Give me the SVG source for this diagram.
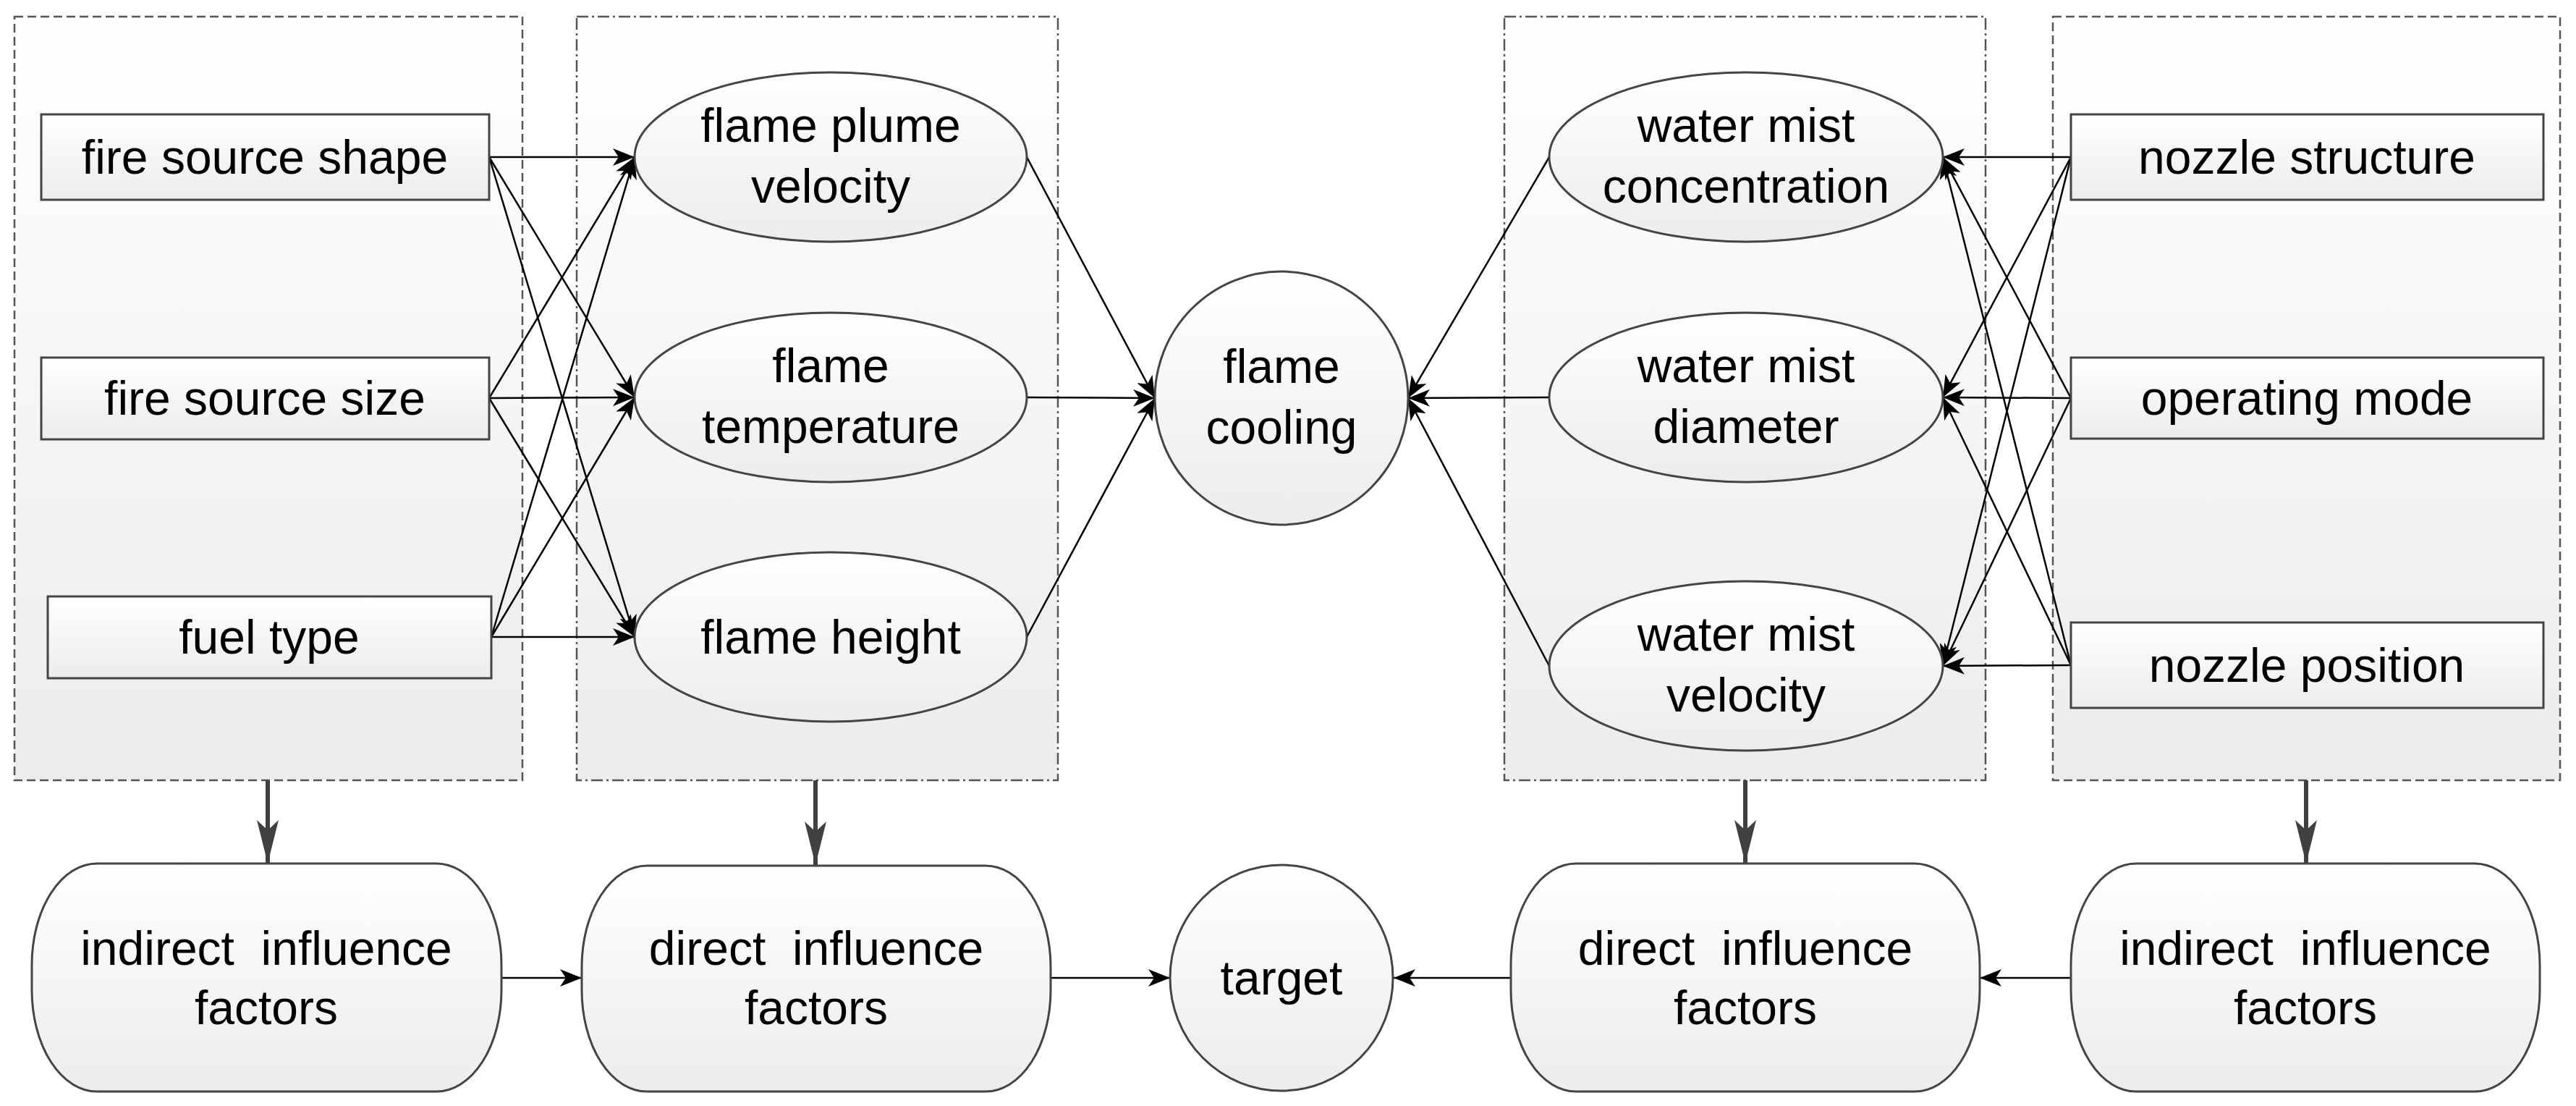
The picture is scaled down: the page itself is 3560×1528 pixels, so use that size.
<svg xmlns="http://www.w3.org/2000/svg" width="3560" height="1528" viewBox="0 0 3560 1528">
<style>
text{font-family:"Liberation Sans",Arial,sans-serif;font-size:66px;fill:#000;text-anchor:middle;white-space:pre}
.grp{fill:url(#g);stroke:#555;stroke-width:2.5}
.dash{stroke-dasharray:12 6}
.dd{stroke-dasharray:16 5 3 5}
.node{fill:url(#g);stroke:#444;stroke-width:3}
.c{stroke:#000;stroke-width:2.5;fill:none;marker-end:url(#a)}
.d{stroke:#404040;stroke-width:6;fill:none;marker-end:url(#b)}
</style>
<defs>
<linearGradient id="g" x1="0" y1="0" x2="0" y2="1"><stop offset="0" stop-color="#ffffff"/><stop offset="1" stop-color="#ececec"/></linearGradient>
<marker id="a" viewBox="0 0 30 24" refX="30" refY="12" markerWidth="30" markerHeight="24" markerUnits="userSpaceOnUse" orient="auto"><path d="M0,0 L30,12 L0,24 L8,12 Z" fill="#000"/></marker>
<marker id="b" viewBox="0 0 30 60" refX="15" refY="60" markerWidth="30" markerHeight="60" markerUnits="userSpaceOnUse" orient="0"><path d="M0,0 L15,60 L30,0 L15,14 Z" fill="#404040"/></marker>
</defs>
<g id="groups">
<rect class="grp dash" x="20" y="23" width="702" height="1055"/>
<rect class="grp dd" x="797" y="23" width="665" height="1055"/>
<rect class="grp dd" x="2079" y="23" width="665" height="1055"/>
<rect class="grp dash" x="2837" y="23" width="701" height="1055"/>
</g>
<g id="connectors">
<line class="c" x1="676" y1="217" x2="877" y2="217"/>
<line class="c" x1="676" y1="217" x2="877" y2="549"/>
<line class="c" x1="676" y1="217" x2="877" y2="880"/>
<line class="c" x1="676" y1="550" x2="877" y2="217"/>
<line class="c" x1="676" y1="550" x2="877" y2="549"/>
<line class="c" x1="676" y1="550" x2="877" y2="880"/>
<line class="c" x1="679" y1="880" x2="877" y2="217"/>
<line class="c" x1="679" y1="880" x2="877" y2="549"/>
<line class="c" x1="679" y1="880" x2="877" y2="880"/>
<line class="c" x1="1419" y1="217" x2="1596" y2="550"/>
<line class="c" x1="1419" y1="549" x2="1596" y2="550"/>
<line class="c" x1="1419" y1="880" x2="1596" y2="550"/>
<line class="c" x1="2141" y1="217" x2="1946" y2="550"/>
<line class="c" x1="2141" y1="549" x2="1946" y2="550"/>
<line class="c" x1="2141" y1="920" x2="1946" y2="550"/>
<line class="c" x1="2862" y1="217" x2="2685" y2="217"/>
<line class="c" x1="2862" y1="217" x2="2685" y2="549"/>
<line class="c" x1="2862" y1="217" x2="2685" y2="920"/>
<line class="c" x1="2862" y1="550" x2="2685" y2="217"/>
<line class="c" x1="2862" y1="550" x2="2685" y2="549"/>
<line class="c" x1="2862" y1="550" x2="2685" y2="920"/>
<line class="c" x1="2862" y1="919" x2="2685" y2="217"/>
<line class="c" x1="2862" y1="919" x2="2685" y2="549"/>
<line class="c" x1="2862" y1="919" x2="2685" y2="920"/>
<line class="d" x1="370" y1="1078" x2="370" y2="1193"/>
<line class="d" x1="1127" y1="1078" x2="1127" y2="1195"/>
<line class="d" x1="2412" y1="1078" x2="2412" y2="1193"/>
<line class="d" x1="3187" y1="1078" x2="3187" y2="1193"/>
<line class="c" x1="693" y1="1351" x2="804" y2="1351"/>
<line class="c" x1="1452" y1="1351" x2="1617" y2="1351"/>
<line class="c" x1="2088" y1="1351" x2="1926" y2="1351"/>
<line class="c" x1="2862" y1="1351" x2="2736" y2="1351"/>
</g>
<g id="n-shape"><rect class="node" x="57" y="158" width="619" height="118"/><text x="366" y="240">fire source shape</text></g>
<g id="n-size"><rect class="node" x="57" y="494" width="619" height="113"/><text x="366" y="573">fire source size</text></g>
<g id="n-fuel"><rect class="node" x="66" y="824" width="613" height="113"/><text x="372" y="903">fuel type</text></g>
<g id="n-plume"><ellipse class="node" cx="1148" cy="217" rx="271" ry="117"/><text x="1148" y="196">flame plume</text><text x="1148" y="280">velocity</text></g>
<g id="n-temp"><ellipse class="node" cx="1148" cy="549" rx="271" ry="117"/><text x="1148" y="528">flame</text><text x="1148" y="612">temperature</text></g>
<g id="n-height"><ellipse class="node" cx="1148" cy="880" rx="271" ry="117"/><text x="1148" y="903">flame height</text></g>
<g id="n-cooling"><ellipse class="node" cx="1771" cy="550" rx="175" ry="175"/><text x="1771" y="529">flame</text><text x="1771" y="613">cooling</text></g>
<g id="n-conc"><ellipse class="node" cx="2413" cy="217" rx="272" ry="117"/><text x="2413" y="196">water mist</text><text x="2413" y="280">concentration</text></g>
<g id="n-diam"><ellipse class="node" cx="2413" cy="549" rx="272" ry="117"/><text x="2413" y="528">water mist</text><text x="2413" y="612">diameter</text></g>
<g id="n-vel"><ellipse class="node" cx="2413" cy="920" rx="272" ry="117"/><text x="2413" y="899">water mist</text><text x="2413" y="983">velocity</text></g>
<g id="n-struct"><rect class="node" x="2862" y="158" width="653" height="118"/><text x="3188" y="240">nozzle structure</text></g>
<g id="n-mode"><rect class="node" x="2862" y="494" width="653" height="112"/><text x="3188" y="573">operating mode</text></g>
<g id="n-pos"><rect class="node" x="2862" y="860" width="653" height="118"/><text x="3188" y="942">nozzle position</text></g>
<g id="n-ind-l"><rect class="node" x="44" y="1193" width="649" height="315" rx="90" ry="140"/><text x="368" y="1333">indirect  influence</text><text x="368" y="1415">factors</text></g>
<g id="n-dir-l"><rect class="node" x="804" y="1196" width="648" height="312" rx="90" ry="140"/><text x="1128" y="1333">direct  influence</text><text x="1128" y="1415">factors</text></g>
<g id="n-target"><ellipse class="node" cx="1771" cy="1351" rx="154" ry="156"/><text x="1771" y="1374">target</text></g>
<g id="n-dir-r"><rect class="node" x="2088" y="1193" width="648" height="315" rx="90" ry="140"/><text x="2412" y="1333">direct  influence</text><text x="2412" y="1415">factors</text></g>
<g id="n-ind-r"><rect class="node" x="2862" y="1193" width="648" height="315" rx="90" ry="140"/><text x="3186" y="1333">indirect  influence</text><text x="3186" y="1415">factors</text></g>
</svg>
